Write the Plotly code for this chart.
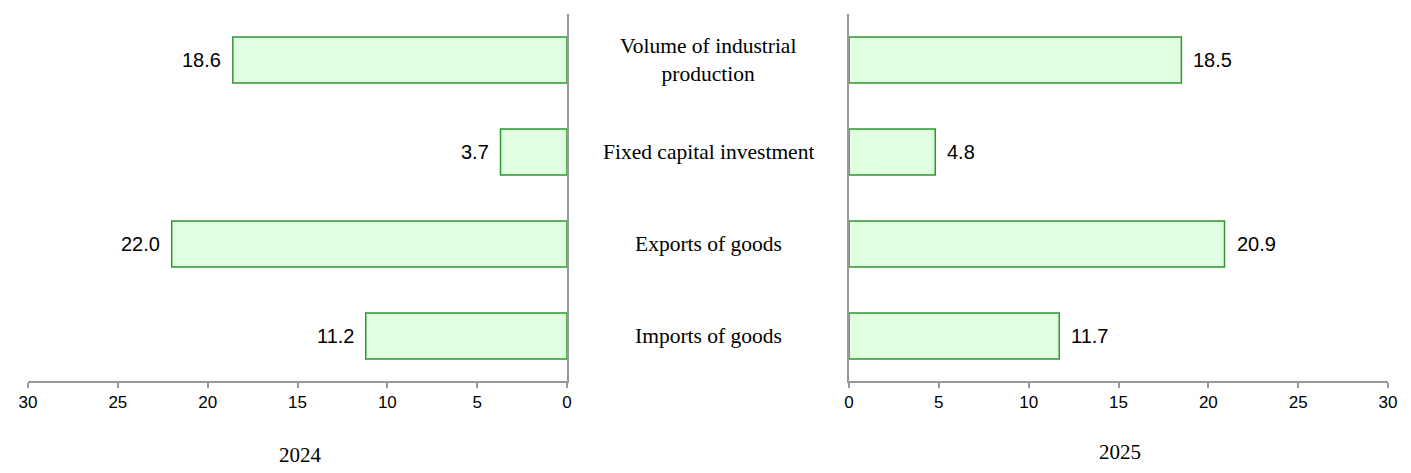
import plotly.graph_objects as go

categories = ["Volume of industrial production", "Fixed capital investment",
              "Exports of goods", "Imports of goods"]
category_labels = ["Volume of industrial<br>production", "Fixed capital investment",
                   "Exports of goods", "Imports of goods"]
values_2024 = [18.6, 3.7, 22.0, 11.2]
values_2025 = [18.5, 4.8, 20.9, 11.7]
years = ["2024", "2025"]
tick_vals = [0, 5, 10, 15, 20, 25, 30]

W, H = 1411, 473
fill = "#e0ffe0"
edge = "#2e962e"
axis_col = "#999999"
serif = "Liberation Serif, Times New Roman, serif"
sans = "Liberation Sans, Arial, sans-serif"

fig = go.Figure()
fig.add_trace(go.Bar(y=categories, x=values_2024, orientation="h", xaxis="x", yaxis="y",
                     marker=dict(color=fill, line=dict(color=edge, width=1.5)), width=0.5,
                     showlegend=False, hoverinfo="x"))
fig.add_trace(go.Bar(y=categories, x=values_2025, orientation="h", xaxis="x2", yaxis="y2",
                     marker=dict(color=fill, line=dict(color=edge, width=1.5)), width=0.5,
                     showlegend=False, hoverinfo="x"))

ydom = [(H - 381) / H, (H - 14) / H]
cat_order = list(reversed(categories))
yrange = [-0.49, 3.5]

annotations = []
for c, v in zip(categories, values_2024):
    annotations.append(dict(x=v, y=c, xref="x", yref="y", text=f"{v:.1f}", showarrow=False,
                            xanchor="right", xshift=-10,
                            font=dict(family=sans, size=20, color="black")))
for c, v in zip(categories, values_2025):
    annotations.append(dict(x=v, y=c, xref="x2", yref="y2", text=f"{v:.1f}", showarrow=False,
                            xanchor="left", xshift=10,
                            font=dict(family=sans, size=20, color="black")))
for c, lab in zip(categories, category_labels):
    annotations.append(dict(x=708 / W, y=c, xref="paper", yref="y", text=lab, showarrow=False,
                            xanchor="center",
                            font=dict(family=serif, size=21.5, color="black")))
annotations.append(dict(x=300 / W, y=(H - 455) / H, xref="paper", yref="paper", text=years[0],
                        showarrow=False, xanchor="center", yanchor="middle",
                        font=dict(family=serif, size=21, color="black")))
annotations.append(dict(x=1120 / W, y=(H - 452) / H, xref="paper", yref="paper", text=years[1],
                        showarrow=False, xanchor="center", yanchor="middle",
                        font=dict(family=serif, size=21, color="black")))

xcommon = dict(tickvals=tick_vals, showgrid=False, zeroline=False, showline=True,
               linecolor=axis_col, linewidth=2, ticks="outside", ticklen=5, tickcolor=axis_col,
               tickwidth=2, tickfont=dict(family=sans, size=17, color="black"),
               automargin=False)
ycommon = dict(domain=ydom, categoryorder="array", categoryarray=cat_order, range=yrange,
               showline=True, linecolor=axis_col, linewidth=2, showticklabels=False,
               ticks="", showgrid=False, zeroline=False, automargin=False)
fig.update_layout(
    template="none",
    width=W, height=H, margin=dict(l=0, r=0, t=0, b=0, pad=0, autoexpand=False),
    plot_bgcolor="white", paper_bgcolor="white",
    xaxis=dict(xcommon, domain=[28 / W, 567 / W], range=[30, 0], anchor="y"),
    xaxis2=dict(xcommon, domain=[849 / W, 1388 / W], range=[0, 30], anchor="y2"),
    yaxis=dict(ycommon, side="right", anchor="x"),
    yaxis2=dict(ycommon, side="left", anchor="x2"),
    annotations=annotations,
    bargap=0.5,
    showlegend=False,
)
fig.write_html("out.html", config={"displayModeBar": False},
               post_script="document.body.style.margin='0';document.body.style.overflow='hidden';")
